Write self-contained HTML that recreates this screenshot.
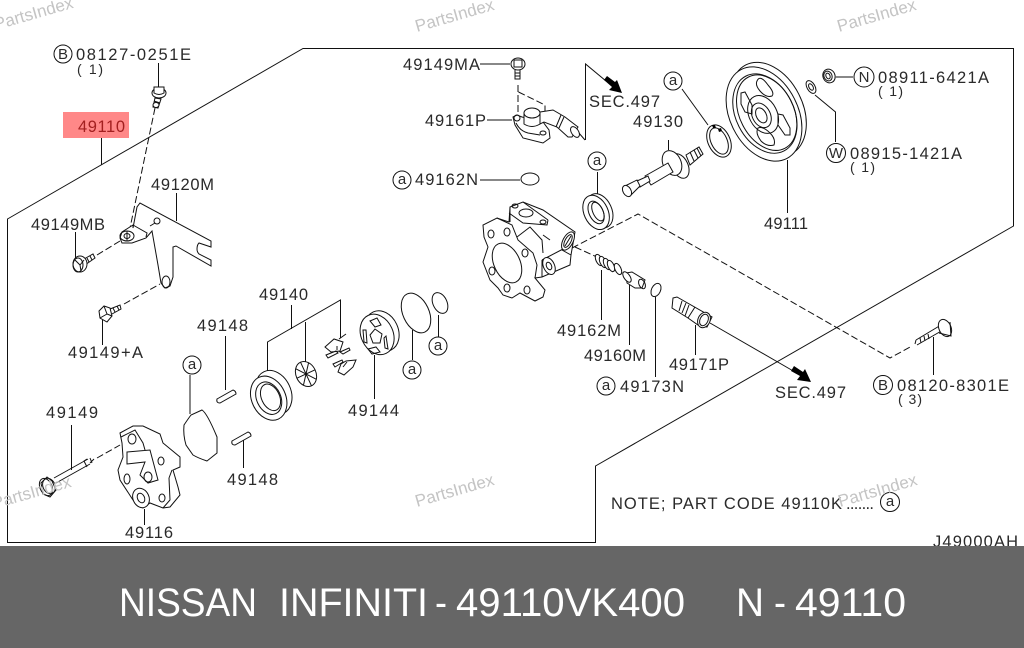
<!DOCTYPE html>
<html><head><meta charset="utf-8"><style>
html,body{margin:0;padding:0;background:#fff;width:1024px;height:648px;overflow:hidden}
svg{display:block}
.l{fill:none;stroke:#111;stroke-width:1}
.d{fill:none;stroke:#111;stroke-width:1;stroke-dasharray:7 3}
.f{fill:#fff;stroke:#111;stroke-width:1}
text{font-family:"Liberation Sans",sans-serif}
.t{font-size:16.5px;fill:#2a2a2a}
.s{font-size:14px;fill:#2a2a2a}
.c{font-size:15px;fill:#2a2a2a;text-anchor:middle}
.w{font-size:17px;fill:#c4c4c4}
.b{font-size:40px;fill:#fff}
</style></head><body>
<svg width="1024" height="648" viewBox="0 0 1024 648" xmlns="http://www.w3.org/2000/svg">
<rect width="1024" height="648" fill="#fff"/>
<rect x="63" y="112" width="66" height="26" fill="#ff8888"/>
<path class="l" d="M7.500 219 L303 48.500 H1013.500 V226 L595.500 466 V542.500 H7.500 Z"/>

<!-- leaders -->
<path class="l" d="M101.500 138V165 M158.500 63V87 M176.500 193V221 M75.500 232V258 M102.500 320V345 M291.500 305V329 M267.500 374V342L340.500 300V338 M305.500 322V365 M374.500 355V399 M412.500 330V360 M438.500 315V337 M225.500 336V390 M243.500 440V468 M190 375V414 M71.500 425V470 M144.500 509V525
M480 64H510 M487 120H512 M480 180H520 M597.500 172V195 M668.500 140V150 M682 89L708 125 M787.500 160V213 M815 95L835.500 112V142 M836 77H853 M601.500 270V320 M629.500 285V345 M655.500 297V377 M695.500 325V355 M933.500 337V375 M710 323L795 372 M585.500 140V64L606 81 M585 140L572 125"/>
<path class="d" d="M155 108L130 228 M97 255L120 241 M124 304L160 284 M97 458L120 445 M518 85V115 M518.500 92L545 105V118 M572 248L638 214L890 358L912 346 M575 247L597 257"/>

<!-- arrows -->
<path d="M604 80L607 76L615 82L617 80L622 93L609 90L612 87Z M791 371L794 366L803 372L805 369L811 382L797 380L800 376Z" fill="#000"/>

<!-- bolt top -->
<path class="f" d="M155 98L161 99L158 108L153 107Z"/><path class="l" d="M154 101L160 103 M153.500 104L159 106"/>
<ellipse class="f" cx="159" cy="93" rx="7" ry="5"/><path class="f" d="M154 87H164V93Q159 96 154 93Z"/>
<ellipse class="f" cx="156" cy="105" rx="3" ry="2.500"/>
<!-- bracket 49120M -->
<path class="f" d="M133 228L137 207L140 203L211 241V247L199 243Q197 245 197 249Q197 252 199 254L211 260V266L176 246L173 247V277L170 286L165 288L161 283L158 265L152 231L146 238L132 243L122 243L120 238L122 232L133 225Z"/>
<ellipse class="l" cx="127" cy="236" rx="7" ry="5"/><ellipse class="l" cx="127" cy="236" rx="3" ry="2.500"/>
<path class="l" d="M133 225L147 233L146 237 M127 231V241"/>
<ellipse class="f" cx="157" cy="221" rx="3" ry="3"/><ellipse class="l" cx="166" cy="282" rx="4" ry="6"/><path class="l" d="M150 226L155 223"/>
<!-- bolt 49149MB -->
<path class="l" d="M84 259L93 254L95 258L85 265 M87 258L89 262 M90 256L92 260"/>
<ellipse class="f" cx="80" cy="264" rx="7" ry="8"/><ellipse class="l" cx="78" cy="265" rx="5" ry="7"/><path class="l" d="M75 260L80 265L84 260 M80 265L81 271"/>
<!-- bolt 49149+A -->
<path class="f" d="M99 311L104 306L110 308L112 316L107 322L100 318Z"/><path class="l" d="M104 306L107 314L112 316 M107 314L100 318 M110 309L120 305L121 309L112 314 M113 308L115 312 M117 306L119 310"/>

<!-- pins -->
<path class="f" d="M217 399L233 390Q236 391 236 394L220 403Q216 403 217 399Z"/>
<path class="f" d="M232 441L248 432Q251 433 251 436L235 445Q231 445 232 441Z"/>
<!-- gasket -->
<path class="l" d="M184 425Q188 419 191 415L202 410Q207 413 217 437V453L207 461Q198 458 193 455L186 445Q183 435 184 425Z"/>
<!-- seal -->
<g transform="rotate(-25 271 396)"><ellipse class="f" cx="275" cy="394" rx="17" ry="23"/><ellipse class="f" cx="268" cy="397" rx="17" ry="23"/><ellipse class="l" cx="268" cy="397" rx="12" ry="17"/><ellipse class="l" cx="270" cy="397" rx="9" ry="14"/></g>
<!-- rotor -->
<g transform="rotate(-25 306 374)"><ellipse class="f" cx="306" cy="374" rx="10" ry="13"/><path class="l" d="M306 361V387 M296 374H316 M299 365L313 383 M313 365L299 383"/></g>
<!-- vanes -->
<path class="l" d="M325 347L334 339L343 342L340 351L331 352Z M339 339L346 334 M326 355L336 351L338 353L328 358Z M340 352L349 348L350 350L343 354Z M333 364L342 360L343 362L335 367Z M346 361L356 360L353 367L344 375L338 372L341 364Z M337 350L337 346 M343 367L347 362"/>
<!-- plate 49144 -->
<g transform="rotate(-25 378 334)"><ellipse class="f" cx="383" cy="333" rx="16" ry="21"/><ellipse class="f" cx="377" cy="334" rx="16" ry="21"/></g>
<path class="l" d="M370 321L377 318L381 325L375 327Z M363 330L366 330L367 343L364 342Z M384 338L386 336L388 349L385 348Z M368 349L376 347L380 352L372 354Z M370 335L375 329L382 334L380 343L373 343Z"/>
<!-- o rings -->
<ellipse class="l" cx="416" cy="313" rx="13" ry="21" transform="rotate(-25 416 313)"/>
<ellipse class="l" cx="440" cy="303" rx="7" ry="11" transform="rotate(-25 440 303)"/>

<!-- bolt 49149 long -->
<path class="l" d="M54 478L88 459 M56 483L90 464 M87 459L84 461L87 467 M90 458L92 463 M94 459L90 463"/>
<path class="f" d="M41 483L47 477L52 481L56 490L50 497L43 494Z"/><ellipse class="l" cx="46" cy="487" rx="6" ry="9" transform="rotate(-25 46 487)"/><ellipse class="l" cx="49" cy="486" rx="6" ry="8" transform="rotate(-25 49 486)"/>
<!-- cover 49116 -->
<path class="f" d="M120 433L133 426L143 426L160 434L163 443L180 457V467L173 470L178 487L180 495L170 507L163 508L150 503L143 508L133 500L120 480L118 470L123 457L122 443Z"/>
<path class="l" d="M127 452L150 450L158 480L148 483L140 475L145 462L127 464Z M121 437L135 430L143 443L145 450"/>
<ellipse class="l" cx="132" cy="439" rx="4" ry="5"/><ellipse class="l" cx="127" cy="479" rx="3" ry="5"/><ellipse class="l" cx="161" cy="461" rx="3" ry="4"/><ellipse class="l" cx="148" cy="477" rx="4" ry="5"/><ellipse class="l" cx="162" cy="498" rx="3" ry="4"/>
<ellipse class="f" cx="141" cy="498" rx="8" ry="10" transform="rotate(-25 141 498)"/><ellipse class="l" cx="141" cy="498" rx="3.500" ry="5" transform="rotate(-25 141 498)"/>
<path class="l" d="M169 478L172 470 M169 478L170 500L163 508"/>

<!-- pump body -->
<path class="f" d="M510 207L523 202L543 210L575 232L571 255L570 265L542 277L535 278L545 290L543 297L535 301L520 293L512 298L503 295L498 288L490 280L483 262L488 247L484 237L483 225L497 218L509 222Z"/>
<path class="l" d="M497 218L512 225L518 240L533 253L537 265L535 278 M509 213L523 223L547 225L548 220 M510 207V222 M523 202L548 220 M517 237L530 227L542 240L543 253 M543 235L550 240 M542 260L565 248 M542 277V260 M562 250L571 255"/>
<ellipse class="l" cx="507" cy="263" rx="13" ry="21" transform="rotate(-25 507 263)"/>
<ellipse class="l" cx="507" cy="232" rx="3" ry="4"/><ellipse class="l" cx="525" cy="253" rx="3" ry="4"/><ellipse class="l" cx="527" cy="290" rx="3" ry="4"/><ellipse class="l" cx="507" cy="288" rx="3" ry="4"/><ellipse class="l" cx="492" cy="271" rx="3" ry="4"/><ellipse class="l" cx="491" cy="234" rx="3" ry="4"/>
<ellipse class="l" cx="526" cy="213" rx="7" ry="4"/><ellipse class="l" cx="515" cy="206" rx="3" ry="2"/><ellipse class="l" cx="543" cy="222" rx="3" ry="2"/>
<ellipse class="f" cx="568" cy="241" rx="5" ry="10" transform="rotate(28 568 241)"/><ellipse class="l" cx="568" cy="241" rx="3" ry="7" transform="rotate(28 568 241)"/><path class="l" d="M565 246L571 236"/>
<ellipse class="f" cx="549" cy="266" rx="5.500" ry="9" transform="rotate(-25 549 266)"/><ellipse class="l" cx="549" cy="266" rx="2.500" ry="4" transform="rotate(-25 549 266)"/>

<!-- spring, cap, o-ring -->
<path class="l" d="M597 260L613 272"/>
<g class="l"><ellipse class="f" cx="599" cy="260" rx="3" ry="6" transform="rotate(-25 599 260)"/><ellipse class="f" cx="603" cy="262" rx="3" ry="6" transform="rotate(-25 603 262)"/><ellipse class="f" cx="607" cy="264" rx="3" ry="6" transform="rotate(-25 607 264)"/><ellipse class="f" cx="611" cy="266" rx="3" ry="6" transform="rotate(-25 611 266)"/><ellipse class="f" cx="618" cy="269" rx="3" ry="6" transform="rotate(-25 618 269)"/></g>
<path class="f" d="M626 273L632 272L645 280L642 288L635 288L627 283Z"/><ellipse class="f" cx="627" cy="277" rx="3" ry="6" transform="rotate(-35 627 277)"/><ellipse class="l" cx="642" cy="284" rx="3" ry="5" transform="rotate(-25 642 284)"/>
<ellipse class="l" cx="656" cy="290" rx="4.500" ry="7" transform="rotate(25 656 290)"/>
<!-- 49171P -->
<path class="f" d="M673 298L677 297L712 317L707 327L698 325L688 318L672 308Z"/>
<path class="l" d="M682 301L679 311 M686 303L682 313 M689 305L685 316 M695 307L688 318"/>
<ellipse class="f" cx="704" cy="320" rx="6" ry="8" transform="rotate(25 704 320)"/><ellipse class="l" cx="704" cy="320" rx="4" ry="6" transform="rotate(25 704 320)"/>

<!-- bolt 49149MA -->
<ellipse class="f" cx="518" cy="64" rx="7" ry="6"/><path class="l" d="M514 60V67L522 67V60 M514 60H522 M515 70V79H520V70 M515 73H520 M515 76H520"/>
<!-- fitting 49161P -->
<path class="f" d="M513 117L517 115L522 117L543 122L549 130L550 138L543 143L523 138L515 125Z"/>
<ellipse class="l" cx="517" cy="118" rx="3" ry="3"/><ellipse class="l" cx="543" cy="133" rx="3" ry="2"/>
<path class="l" d="M516 123Q520 131 528 133L540 135"/>
<path class="f" d="M524 113V124Q532 129 540 124V113Z"/><ellipse class="f" cx="532" cy="113" rx="8" ry="5"/>
<path class="f" d="M540 112L553 110L565 117L578 127L572 137L568 137L557 127L544 122L540 124Z"/>
<path class="l" d="M561 115L556 127 M564 117L559 128"/><ellipse class="f" cx="575" cy="132" rx="3.500" ry="6" transform="rotate(-35 575 132)"/>

<!-- seal 2 -->
<g transform="rotate(-25 597 212)"><ellipse class="f" cx="600" cy="212" rx="12" ry="18"/><ellipse class="f" cx="596" cy="212" rx="12" ry="18"/><ellipse class="l" cx="596" cy="212" rx="7" ry="12"/><ellipse class="l" cx="598" cy="212" rx="5" ry="10"/></g>
<!-- 49162N -->
<ellipse class="l" cx="530" cy="179" rx="9" ry="6"/>
<!-- shaft 49130 -->
<path class="f" d="M686 155L699 147L703 154L690 165Z"/><path class="l" d="M690 152L694 161 M694 150L698 158 M697 148L701 156"/>
<ellipse class="f" cx="680" cy="166" rx="8" ry="13" transform="rotate(-25 680 166)"/>
<ellipse class="f" cx="672" cy="163" rx="9" ry="13" transform="rotate(-25 672 163)"/>
<path class="f" d="M645 176L668 163L673 172L651 185Z"/>
<path class="f" d="M637 181L648 176L650 181L640 187Z"/>
<path class="f" d="M625 186L637 180L640 186L630 196Z"/>
<ellipse class="f" cx="627" cy="191" rx="4" ry="6" transform="rotate(-30 627 191)"/>
<!-- snap ring -->
<ellipse class="l" cx="719" cy="141" rx="11" ry="17" transform="rotate(-25 719 141)"/><ellipse class="l" cx="719" cy="141" rx="8" ry="14" transform="rotate(-25 719 141)"/>
<path d="M712 125l3 0 1 3 -3 0Z M718 129l3-1 1 3 -3 1Z" fill="#000"/>
<!-- pulley -->
<g transform="rotate(-27 764 114)">
<ellipse class="f" cx="770" cy="112" rx="34" ry="50"/><ellipse class="f" cx="764" cy="114" rx="34" ry="50"/><ellipse class="l" cx="765" cy="114" rx="29" ry="42"/><ellipse class="l" cx="767" cy="114" rx="27" ry="40"/>
<ellipse class="l" cx="763" cy="114" rx="14" ry="20"/><ellipse class="l" cx="761" cy="114" rx="9" ry="13"/><ellipse class="l" cx="761" cy="114" rx="5" ry="8"/></g>
<path class="l" d="M757 81Q760 74 768 85Q775 93 772 96Q766 98 760 91Q755 85 757 81Z M741 93L745 92L752 105L752 114L745 112L741 104Z M778 114L783 115L790 128V135L785 135L778 125Z M758 128Q763 126 770 133Q776 139 774 145Q767 147 761 141Q755 133 758 128Z"/>
<!-- nut, washer -->
<ellipse class="f" cx="829" cy="76" rx="6" ry="7" transform="rotate(-25 829 76)"/><ellipse class="l" cx="828" cy="76" rx="4" ry="5" transform="rotate(-25 828 76)"/><ellipse class="l" cx="828" cy="76" rx="2" ry="3" transform="rotate(-25 828 76)"/>
<ellipse class="l" cx="811" cy="87" rx="4" ry="7" transform="rotate(-30 811 87)"/><ellipse class="l" cx="811" cy="87" rx="2" ry="3.500" transform="rotate(-30 811 87)"/>
<!-- bolt right -->
<path class="l" d="M916 340L941 325 M917 345L943 330 M916 340L915 344 M920 338L921 343 M924 336L925 341 M928 334L929 339"/>
<ellipse class="f" cx="945" cy="328" rx="6" ry="9" transform="rotate(-25 945 328)"/><path class="l" d="M939 333L951 336L950 322"/>

<!-- circles -->
<g class="l"><circle cx="63" cy="54" r="9"/><circle cx="192" cy="365" r="9"/><circle cx="412" cy="370" r="9"/><circle cx="438" cy="346" r="9"/><circle cx="402" cy="180" r="9"/><circle cx="597" cy="161" r="9"/><circle cx="673" cy="81" r="9"/><circle cx="864" cy="77" r="10"/><circle cx="836" cy="153" r="9.500"/><circle cx="883" cy="385" r="9.500"/><circle cx="606" cy="386" r="9"/><circle cx="890" cy="502" r="9.500"/></g>
<text class="c" x="63" y="59">B</text><text class="c" x="192" y="369">a</text><text class="c" x="412" y="374">a</text><text class="c" x="438" y="350">a</text><text class="c" x="402" y="184">a</text><text class="c" x="597" y="165">a</text><text class="c" x="673" y="85">a</text><text class="c" x="864" y="82">N</text><text class="c" x="836" y="158">W</text><text class="c" x="883" y="390">B</text><text class="c" x="606" y="390">a</text><text class="c" x="890" y="506">a</text>

<!-- labels -->
<text class="t" x="76" y="60" textLength="115">08127-0251E</text>
<text class="s" x="77" y="74" textLength="26">( 1)</text>
<text class="t" x="78" y="132" textLength="47" style="fill:#a32020">49110</text>
<text class="t" x="151" y="190" textLength="63">49120M</text>
<text class="t" x="31" y="230" textLength="74">49149MB</text>
<text class="t" x="68" y="358" textLength="75">49149+A</text>
<text class="t" x="259" y="300" textLength="49">49140</text>
<text class="t" x="197" y="331" textLength="51">49148</text>
<text class="t" x="46" y="418" textLength="52">49149</text>
<text class="t" x="227" y="485" textLength="51">49148</text>
<text class="t" x="348" y="416" textLength="51">49144</text>
<text class="t" x="125" y="538" textLength="48">49116</text>
<text class="t" x="403" y="70" textLength="77">49149MA</text>
<text class="t" x="425" y="126" textLength="61">49161P</text>
<text class="t" x="415" y="185" textLength="63">49162N</text>
<text class="t" x="589" y="107" textLength="71">SEC.497</text>
<text class="t" x="633" y="127" textLength="50">49130</text>
<text class="t" x="878" y="83" textLength="111">08911-6421A</text>
<text class="s" x="878" y="96" textLength="25">( 1)</text>
<text class="t" x="850" y="159" textLength="112">08915-1421A</text>
<text class="s" x="850" y="172" textLength="25">( 1)</text>
<text class="t" x="764" y="229" textLength="44">49111</text>
<text class="t" x="557" y="336" textLength="64">49162M</text>
<text class="t" x="584" y="361" textLength="62">49160M</text>
<text class="t" x="669" y="370" textLength="60">49171P</text>
<text class="t" x="620" y="392" textLength="64">49173N</text>
<text class="t" x="775" y="398" textLength="71">SEC.497</text>
<text class="t" x="897" y="391" textLength="112">08120-8301E</text>
<text class="s" x="898" y="404" textLength="24">( 3)</text>
<text class="t" x="611" y="509" textLength="231">NOTE; PART CODE 49110K</text>
<text class="t" x="846" y="509" textLength="28">.......</text>
<text class="t" x="933" y="547" textLength="85">J49000AH</text>

<!-- watermarks -->
<text class="w" transform="translate(-4 30) rotate(-16)">PartsIndex</text>
<text class="w" transform="translate(417 32) rotate(-16)">PartsIndex</text>
<text class="w" transform="translate(839 32) rotate(-16)">PartsIndex</text>
<text class="w" transform="translate(-6 509) rotate(-16)">PartsIndex</text>
<text class="w" transform="translate(417 507) rotate(-16)">PartsIndex</text>
<text class="w" transform="translate(840 507) rotate(-16)">PartsIndex</text>

<!-- footer -->
<rect x="0" y="546" width="1024" height="102" fill="#666"/>
<text class="b" x="119" y="616" textLength="138" lengthAdjust="spacingAndGlyphs">NISSAN</text>
<text class="b" x="279" y="616" textLength="149" lengthAdjust="spacingAndGlyphs">INFINITI</text>
<text class="b" x="435" y="616" textLength="12" lengthAdjust="spacingAndGlyphs">-</text>
<text class="b" x="456" y="616" textLength="229" lengthAdjust="spacingAndGlyphs">49110VK400</text>
<text class="b" x="736" y="616" textLength="28" lengthAdjust="spacingAndGlyphs">N</text>
<text class="b" x="774" y="616" textLength="12" lengthAdjust="spacingAndGlyphs">-</text>
<text class="b" x="795" y="616" textLength="111" lengthAdjust="spacingAndGlyphs">49110</text>
</svg>
</body></html>
